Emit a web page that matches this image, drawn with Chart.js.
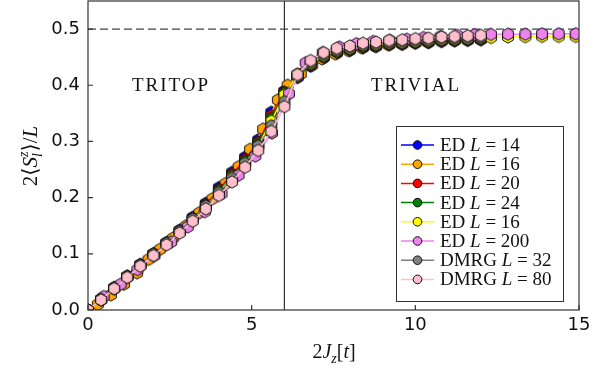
<!DOCTYPE html>
<html>
<head>
<meta charset="utf-8">
<script src="https://cdn.jsdelivr.net/npm/chart.js@4"></script>
<style>
  html, body { margin: 0; padding: 0; background: #fff; }
</style>
</head>
<body>
<canvas id="chart" width="611" height="374"></canvas>
<script>
// time grid used by most runs
let tGrid = [0, 0.4, 0.8, 1.2, 1.6, 2, 2.4, 2.8, 3.2, 3.6, 4, 4.4, 4.8, 5.2, 5.6, 6,
  6.4, 6.8, 7.2, 7.6, 8, 8.4, 8.8, 9.2, 9.6, 10, 10.4, 10.8, 11.2, 11.6, 12];

let ed14 = [0, 0.019, 0.04, 0.06, 0.081, 0.1, 0.12, 0.142, 0.165, 0.19, 0.218, 0.245, 0.272, 0.303, 0.352, 0.39,
  0.414, 0.434, 0.449, 0.457, 0.462, 0.467, 0.469, 0.472, 0.473, 0.475, 0.476, 0.478, 0.479, 0.48, 0.481];

let ed16x = [0.3, 0.7, 1.1, 1.5, 1.85, 2.2, 2.6, 3.0, 3.4, 3.8, 4.2, 4.6, 4.95, 5.35, 5.8, 6.1,
  6.5, 6.85, 7.15, 7.55, 7.95, 8.35, 8.75, 9.15, 9.55, 9.95, 10.35, 10.75, 11.15, 11.55, 11.95];
let ed16 = [0.01, 0.027, 0.046, 0.066, 0.09, 0.108, 0.128, 0.15, 0.173, 0.198, 0.225, 0.255, 0.286, 0.322, 0.374, 0.4,
  0.42, 0.436, 0.447, 0.456, 0.462, 0.467, 0.47, 0.473, 0.476, 0.478, 0.48, 0.482, 0.483, 0.484, 0.485];

let ed20 = [0, 0.019, 0.039, 0.06, 0.08, 0.1, 0.119, 0.141, 0.163, 0.188, 0.215, 0.242, 0.268, 0.299, 0.346, 0.388,
  0.415, 0.436, 0.45, 0.459, 0.463, 0.468, 0.47, 0.473, 0.474, 0.476, 0.477, 0.479, 0.48, 0.481, 0.482];

let ed24 = [0, 0.019, 0.039, 0.059, 0.08, 0.099, 0.119, 0.14, 0.162, 0.186, 0.213, 0.239, 0.265, 0.296, 0.341, 0.386,
  0.416, 0.437, 0.451, 0.46, 0.464, 0.469, 0.471, 0.474, 0.475, 0.477, 0.478, 0.48, 0.481, 0.482, 0.483];

let ed16bx = [0, 0.4, 0.8, 1.2, 1.6, 2, 2.4, 2.8, 3.2, 3.6, 4, 4.4, 4.8, 5.2, 5.6, 6,
  6.4, 6.8, 7.2, 7.6, 8, 8.4, 8.8, 9.2, 9.6, 10, 10.4, 10.8, 11.2, 11.6, 12,
  12.31, 12.83, 13.36, 13.87, 14.38, 14.9];
let ed16b = [0, 0.018, 0.038, 0.059, 0.079, 0.099, 0.118, 0.139, 0.161, 0.184, 0.21, 0.236, 0.262, 0.292, 0.336, 0.383,
  0.42, 0.439, 0.453, 0.461, 0.465, 0.47, 0.472, 0.475, 0.476, 0.478, 0.479, 0.481, 0.482, 0.483, 0.484,
  0.485, 0.486, 0.4865, 0.487, 0.487, 0.487];

let ed200x = [0, 0.48, 1.0, 1.51, 2.03, 2.54, 3.05, 3.57, 4.08, 4.6, 5.11, 5.62, 6.14, 6.65, 7.17,
  7.68, 8.2, 8.71, 9.22, 9.74, 10.25, 10.77, 11.28, 11.8, 12.31, 12.83, 13.36, 13.87, 14.38, 14.9];
let ed200 = [0, 0.024, 0.046, 0.072, 0.097, 0.121, 0.148, 0.175, 0.207, 0.24, 0.274, 0.315, 0.385, 0.44, 0.458,
  0.468, 0.474, 0.478, 0.48, 0.482, 0.485, 0.487, 0.489, 0.49, 0.4905, 0.491, 0.491, 0.4915, 0.4915, 0.4915];

let dmrg32 = [0, 0.019, 0.039, 0.059, 0.08, 0.099, 0.119, 0.14, 0.162, 0.185, 0.209, 0.234, 0.261, 0.292, 0.328, 0.371,
  0.416, 0.441, 0.455, 0.463, 0.467, 0.472, 0.474, 0.477, 0.478, 0.48, 0.481, 0.483, 0.484, 0.485, 0.486];

let dmrg80 = [0, 0.018, 0.038, 0.058, 0.078, 0.097, 0.116, 0.137, 0.158, 0.18, 0.204, 0.228, 0.254, 0.284, 0.318, 0.362,
  0.419, 0.444, 0.458, 0.466, 0.47, 0.475, 0.477, 0.48, 0.481, 0.483, 0.484, 0.486, 0.487, 0.488, 0.489];

let method = ["ED", "ED", "ED", "ED", "ED", "ED", "DMRG", "DMRG"];
let sizes = ["14", "16", "20", "24", "16", "200", "32", "80"];
let colors = ["blue", "orange", "red", "green", "yellow", "violet", "gray", "pink"];
let xsList = [tGrid, ed16x, tGrid, tGrid, ed16bx, ed200x, tGrid, tGrid];
let ysList = [ed14, ed16, ed20, ed24, ed16b, ed200, dmrg32, dmrg80];

let xTicks = [0, 5, 10, 15];
let yTicks = [0, 0.1, 0.2, 0.3, 0.4, 0.5];

// hexagon marker, vertex on top like matplotlib "h"
function hexMarker(fill) {
  let c = document.createElement("canvas");
  c.width = 16;
  c.height = 16;
  let g = c.getContext("2d");
  g.beginPath();
  for (let k = 0; k < 6; k++) {
    let a = -Math.PI / 2 + (k * Math.PI) / 3;
    let px = 8 + 6.2 * Math.cos(a);
    let py = 8 + 6.2 * Math.sin(a);
    if (k == 0) g.moveTo(px, py);
    else g.lineTo(px, py);
  }
  g.closePath();
  g.fillStyle = fill;
  g.fill();
  g.lineWidth = 1;
  g.strokeStyle = "#111";
  g.stroke();
  return c;
}

let datasets = colors.map((col, i) => ({
  label: method[i] + " L = " + sizes[i],
  data: xsList[i].map((x, j) => ({ x: x, y: ysList[i][j] })),
  borderColor: col,
  backgroundColor: col,
  borderWidth: 1.5,
  pointStyle: hexMarker(col),
  pointRadius: 6,
  tension: 0,
  clip: 0,
  order: colors.length - i,
}));

const serif = "'Liberation Serif', 'DejaVu Serif', serif";

function runsWidth(ctx, runs) {
  let w = 0;
  runs.forEach((r) => {
    ctx.font = r.font;
    if (!r.stack) w += ctx.measureText(r.t).width;
  });
  return w;
}

function drawRuns(ctx, runs, x, y) {
  let cx = x;
  let lastW = 0;
  runs.forEach((r) => {
    ctx.font = r.font;
    let rw = ctx.measureText(r.t).width;
    if (r.stack) {
      // subscript under a superscript
      ctx.fillText(r.t, cx - lastW, y + (r.dy || 0));
      return;
    }
    ctx.fillText(r.t, cx, y + (r.dy || 0));
    cx += rw;
    lastW = rw;
  });
}

const decor = {
  id: "decor",
  afterLayout(chart) {
    // pull the plot frame up to the top edge like the original
    let a = chart.chartArea;
    let d = a.top - 1;
    if (d > 0) {
      a.top = 1;
      a.height += d;
      let y = chart.scales.y;
      y.top = 1;
      y.height += d;
      y.configure();
    }
  },
  beforeDatasetsDraw(chart) {
    let { ctx, chartArea: a, scales } = chart;
    ctx.save();
    let y5 = scales.y.getPixelForValue(0.5);
    ctx.strokeStyle = "#444";
    ctx.lineWidth = 1.2;
    ctx.setLineDash([8, 4]);
    ctx.beginPath();
    ctx.moveTo(a.left, y5);
    ctx.lineTo(a.right, y5);
    ctx.stroke();
    ctx.setLineDash([]);
    let x6 = scales.x.getPixelForValue(6);
    ctx.strokeStyle = "#333";
    ctx.beginPath();
    ctx.moveTo(x6, a.top);
    ctx.lineTo(x6, a.bottom);
    ctx.stroke();
    ctx.fillStyle = "#111";
    ctx.font = "19px " + serif;
    ctx.letterSpacing = "2px";
    ctx.textAlign = "center";
    ctx.textBaseline = "middle";
    ctx.fillText("TRITOP", 171, 86);
    ctx.fillText("TRIVIAL", 416, 86);
    ctx.letterSpacing = "0px";
    ctx.restore();
  },
  afterDraw(chart) {
    let { ctx, chartArea: a, scales } = chart;
    ctx.save();
    ctx.strokeStyle = "#333";
    ctx.lineWidth = 1.2;
    ctx.strokeRect(a.left, a.top, a.right - a.left, a.bottom - a.top);
    ctx.beginPath();
    yTicks.forEach((v) => {
      let py = scales.y.getPixelForValue(v);
      ctx.moveTo(a.left, py);
      ctx.lineTo(a.left + 5, py);
    });
    xTicks.forEach((v) => {
      let px = scales.x.getPixelForValue(v);
      ctx.moveTo(px, a.bottom);
      ctx.lineTo(px, a.bottom - 5);
    });
    ctx.stroke();

    // legend
    let lx = 396.5, ly = 126.5, lw = 167, lh = 175;
    ctx.fillStyle = "#fff";
    ctx.fillRect(lx, ly, lw, lh);
    ctx.strokeStyle = "#333";
    ctx.lineWidth = 1;
    ctx.strokeRect(lx, ly, lw, lh);
    ctx.textBaseline = "alphabetic";
    ctx.textAlign = "left";
    colors.forEach((col, i) => {
      let ry = 145 + i * 19.2;
      ctx.strokeStyle = col;
      ctx.lineWidth = 1.5;
      ctx.beginPath();
      ctx.moveTo(401, ry);
      ctx.lineTo(434, ry);
      ctx.stroke();
      ctx.beginPath();
      ctx.arc(417.5, ry, 4.3, 0, Math.PI * 2);
      ctx.fillStyle = col;
      ctx.fill();
      ctx.strokeStyle = "#111";
      ctx.lineWidth = 1;
      ctx.stroke();
      ctx.fillStyle = "#111";
      drawRuns(ctx, [
        { t: method[i] + " ", font: "19px " + serif },
        { t: "L", font: "italic 19px " + serif },
        { t: " = " + sizes[i], font: "19px " + serif },
      ], 440, ry + 6);
    });

    // axis titles
    ctx.fillStyle = "#111";
    let xRuns = [
      { t: "2", font: "20px " + serif },
      { t: "J", font: "italic 20px " + serif },
      { t: "z", font: "italic 14px " + serif, dy: 5 },
      { t: "[", font: "20px " + serif },
      { t: "t", font: "italic 20px " + serif },
      { t: "]", font: "20px " + serif },
    ];
    let xw = runsWidth(ctx, xRuns);
    drawRuns(ctx, xRuns, 334 - xw / 2, 358);

    let yRuns = [
      { t: "2\u27E8", font: "21px " + serif },
      { t: "S", font: "italic 21px " + serif },
      { t: "z", font: "italic 14px " + serif, dy: -9 },
      { t: "l", font: "italic 14px " + serif, dy: 5, stack: true },
      { t: "\u27E9/", font: "21px " + serif },
      { t: "L", font: "italic 21px " + serif },
    ];
    let yw = runsWidth(ctx, yRuns);
    ctx.translate(37, 156);
    ctx.rotate(-Math.PI / 2);
    drawRuns(ctx, yRuns, -yw / 2, 0);
    ctx.restore();
  },
};

new Chart(document.getElementById("chart"), {
  type: "line",
  data: { datasets: datasets },
  options: {
    responsive: false,
    animation: false,
    layout: { padding: { left: 0, right: 32, top: 1, bottom: 0 } },
    scales: {
      x: {
        type: "linear",
        min: 0,
        max: 15,
        afterFit: (s) => {
          s.height = 64;
          s.paddingLeft = 0;
          s.paddingRight = 0;
        },
        afterBuildTicks: (s) => { s.ticks = xTicks.map((v) => ({ value: v })); },
        ticks: {
          color: "#111",
          padding: 5,
          maxRotation: 0,
          font: { family: "'DejaVu Sans'", size: 18 },
          callback: (v) => String(v),
        },
        grid: { display: false, drawTicks: false },
        border: { display: false },
      },
      y: {
        type: "linear",
        min: 0,
        max: 0.55,
        afterFit: (s) => {
          s.width = 88;
          s.paddingTop = 0;
          s.paddingBottom = 0;
        },
        afterBuildTicks: (s) => { s.ticks = yTicks.map((v) => ({ value: v })); },
        ticks: {
          color: "#111",
          padding: 8,
          font: { family: "'DejaVu Sans'", size: 18 },
          callback: (v) => v.toFixed(1),
        },
        grid: { display: false, drawTicks: false },
        border: { display: false },
      },
    },
    plugins: {
      legend: { display: false },
      tooltip: { enabled: false },
    },
  },
  plugins: [decor],
});
</script>
</body>
</html>
